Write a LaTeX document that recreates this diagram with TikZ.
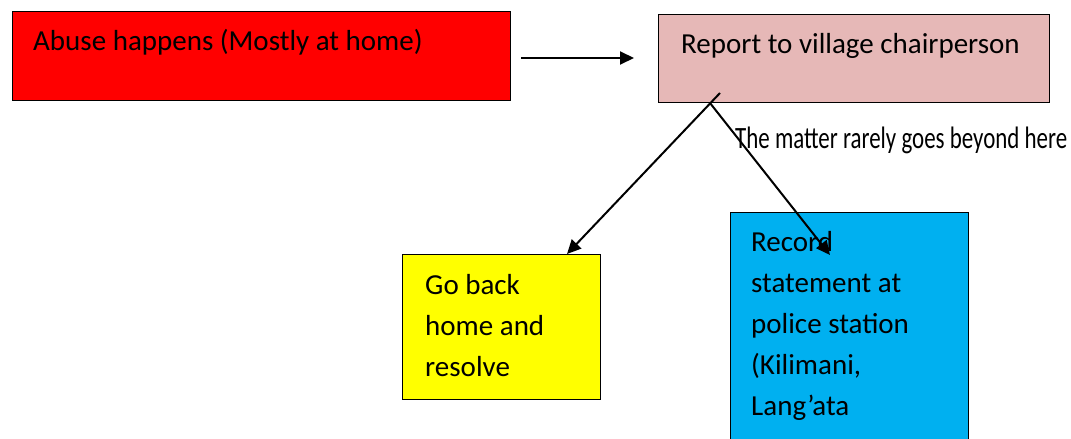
\documentclass[tikz,border=0pt]{standalone}
\usepackage{fontspec}
\setmainfont{Carlito}
\newfontfamily\condfont[FakeStretch=0.74]{Carlito}
\usetikzlibrary{arrows.meta}
\definecolor{redbox}{HTML}{FF0000}
\definecolor{pinkbox}{HTML}{E6B8B7}
\definecolor{yellowbox}{HTML}{FFFF00}
\definecolor{bluebox}{HTML}{00B0F0}
\begin{document}
\begin{tikzpicture}[x=1pt,y=-1pt,
  box/.style={draw=black, line width=1.3pt, inner sep=0pt},
  txt/.style={inner sep=0pt, align=left, font=\fontsize{29}{41}\selectfont},
  conn/.style={line width=2pt, -{Triangle[length=14pt,width=13pt]}}]
\useasboundingbox (0,0) rectangle (1071,439);
\node[box, fill=redbox, minimum width=498pt, minimum height=89pt, anchor=north west] (abuse) at (12,11) {};
\node[txt, anchor=base west] (abuseT) at (33,50) {Abuse happens (Mostly at home)};
\node[box, fill=pinkbox, minimum width=391pt, minimum height=88pt, anchor=north west] (report) at (658,14) {};
\node[txt, anchor=base west] (reportT) at (681,53) {Report to village chairperson};
\node[box, fill=yellowbox, minimum width=198pt, minimum height=145pt, anchor=north west] (home) at (402,254) {};
\node[txt, anchor=north west] (homeT) at (425,274.5) {Go back\\home and\\resolve};
\node[box, fill=bluebox, minimum width=238pt, minimum height=240pt, anchor=north west] (police) at (730,212) {};
\node[txt, anchor=north west] (policeT) at (751,231.5) {Record\\statement at\\police station\\(Kilimani,\\Lang’ata};
\node[inner sep=0pt, anchor=base west, font=\condfont\fontsize{31}{34}\selectfont] (note) at (735,148) {The matter rarely goes beyond here};
\coordinate (a1) at (521,58);
\coordinate (a2) at (634,58);
\draw[conn] (a1) -- (a2);
\coordinate (l1) at (720,93);
\coordinate (l2) at (567,254);
\draw[conn] (l1) -- (l2);
\coordinate (r1) at (710,103);
\coordinate (r2) at (830,255);
\draw[conn] (r1) -- (r2);
\end{tikzpicture}
\end{document}
